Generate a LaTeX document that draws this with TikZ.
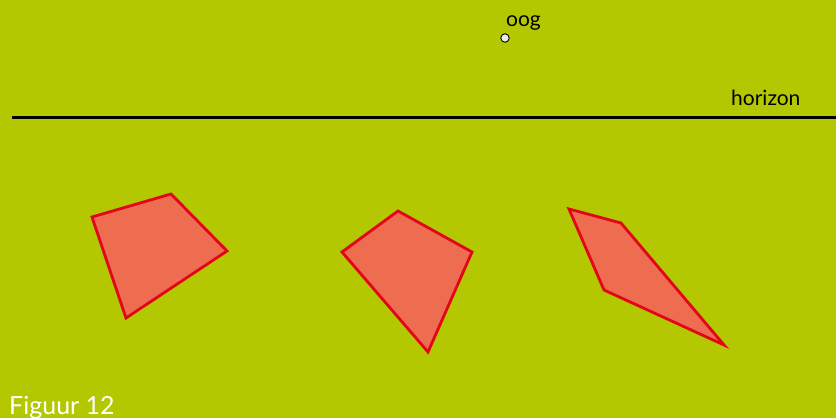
\documentclass[tikz,border=0pt]{standalone}
\usepackage{fontspec}
\setmainfont{Lato}
\definecolor{veld}{RGB}{179,200,0}
\definecolor{vlakvul}{RGB}{238,108,80}
\definecolor{vlakrand}{RGB}{227,6,25}
\begin{document}
\begin{tikzpicture}[x=1pt, y=-1pt,
        vlak/.style={draw=vlakrand, fill=vlakvul, line width=2.8pt, line join=miter},
        tekst/.style={inner sep=0, anchor=base west, font=\fontsize{21}{25}\selectfont}]
                \fill[veld] (0,0) rectangle (836,418);
                \useasboundingbox (0,0) rectangle (836,418);

                \node[circle, draw, fill=gray!15, minimum size=8.5, inner sep=0, line width=0.9pt](oog) at (505,38) {};
                \node[tekst](oogLabel) at (506,26) {oog};

                \coordinate (horL) at (12,117);
                \coordinate (horR) at (836,117);
                \draw[line width=3pt] (horL) -- (horR);
                \node[tekst](horLabel) at (731,105) {horizon};

                \draw[vlak] (92,217) -- (171,194) -- (227,251) -- (126,318) -- cycle;
                \draw[vlak] (342,252) -- (398,211) -- (472,252) -- (428,352) -- cycle;
                \draw[vlak] (569,209) -- (621,223) -- (724,345) -- (604,290) -- cycle;

                \node[tekst, white, font=\fontsize{25}{30}\selectfont](figuur) at (9,414) {Figuur 12};
\end{tikzpicture}
\end{document}
